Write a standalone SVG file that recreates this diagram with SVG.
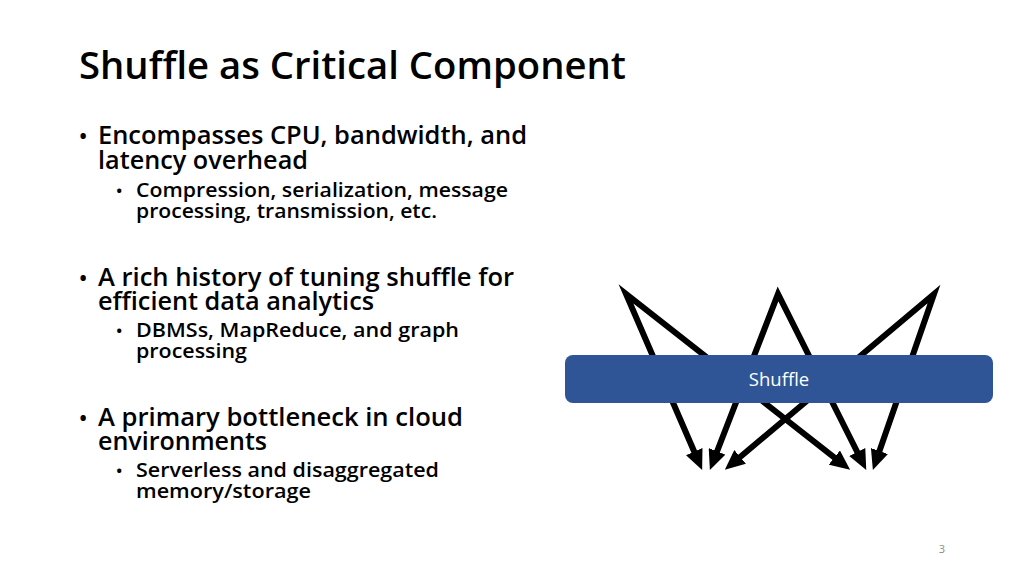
<svg xmlns="http://www.w3.org/2000/svg" width="1024" height="576" viewBox="0 0 1024 576">
<style>
.t{font-family:"Open Sans","Noto Sans","Liberation Sans",sans-serif;font-weight:600;fill:#000}
.title{font-size:38px}
.l1{font-size:25px}
.l2{font-size:20.5px}
.b1{font-size:22px}
.b2{font-size:17px}
.arr{fill:none;stroke:#000;stroke-width:6;stroke-linejoin:miter;stroke-miterlimit:20}
.lbl{font-family:"Open Sans","Noto Sans","Liberation Sans",sans-serif;font-size:18.5px;fill:#fff;text-anchor:middle}
</style>
<defs>
<marker id="ah" viewBox="0 0 20 18" refX="5" refY="9" markerWidth="20" markerHeight="18" markerUnits="userSpaceOnUse" orient="auto-start-reverse">
<path d="M0,0 L20,9 L0,18 z" fill="#000"/>
</marker>
</defs>
<rect width="1024" height="576" fill="#fff"/>
<g id="title">
<text class="t title" x="79" y="79" textLength="547" lengthAdjust="spacingAndGlyphs">Shuffle as Critical Component</text>
</g>
<g id="bullets">
<text class="t b1" x="79" y="144">•</text>
<text class="t l1" x="98" y="144" textLength="429" lengthAdjust="spacingAndGlyphs">Encompasses CPU, bandwidth, and</text>
<text class="t l1" x="98" y="169" textLength="210" lengthAdjust="spacingAndGlyphs">latency overhead</text>
<text class="t b2" x="116" y="197">•</text>
<text class="t l2" x="136" y="197" textLength="372" lengthAdjust="spacingAndGlyphs">Compression, serialization, message</text>
<text class="t l2" x="136" y="218" textLength="301" lengthAdjust="spacingAndGlyphs">processing, transmission, etc.</text>

<text class="t b1" x="79" y="286">•</text>
<text class="t l1" x="98" y="286" textLength="416" lengthAdjust="spacingAndGlyphs">A rich history of tuning shuffle for</text>
<text class="t l1" x="98" y="310" textLength="276" lengthAdjust="spacingAndGlyphs">efficient data analytics</text>
<text class="t b2" x="116" y="337">•</text>
<text class="t l2" x="136" y="337" textLength="323" lengthAdjust="spacingAndGlyphs">DBMSs, MapReduce, and graph</text>
<text class="t l2" x="136" y="358" textLength="111" lengthAdjust="spacingAndGlyphs">processing</text>

<text class="t b1" x="79" y="426">•</text>
<text class="t l1" x="98" y="426" textLength="365" lengthAdjust="spacingAndGlyphs">A primary bottleneck in cloud</text>
<text class="t l1" x="98" y="450" textLength="169" lengthAdjust="spacingAndGlyphs">environments</text>
<text class="t b2" x="116" y="477">•</text>
<text class="t l2" x="136" y="477" textLength="303" lengthAdjust="spacingAndGlyphs">Serverless and disaggregated</text>
<text class="t l2" x="136" y="498" textLength="175" lengthAdjust="spacingAndGlyphs">memory/storage</text>
</g>
<g id="connectors">
<path class="arr" d="M696.2,456.2 L626,294 L838.3,460.6" marker-start="url(#ah)" marker-end="url(#ah)"/>
<path class="arr" d="M715.3,456 L778,294 L859.5,456.5" marker-start="url(#ah)" marker-end="url(#ah)"/>
<path class="arr" d="M736.3,460.2 L934,294 L877.8,455.8" marker-start="url(#ah)" marker-end="url(#ah)"/>
</g>
<g id="shuffle">
<rect x="565" y="355" width="428" height="48" rx="8" fill="#2F5597"/>
<text class="lbl" x="779" y="386">Shuffle</text>
</g>
<g id="page">
<text x="942" y="553" font-family="'Open Sans','Liberation Sans',sans-serif" font-size="11" fill="#8a8a8a" text-anchor="middle">3</text>
</g>
</svg>
